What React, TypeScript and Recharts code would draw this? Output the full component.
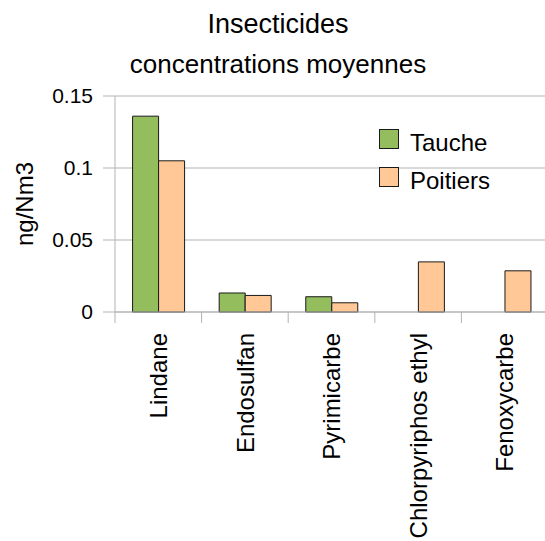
import { Bar, BarChart, Legend, XAxis, YAxis, CartesianGrid } from 'recharts';

const categories = ['Lindane', 'Endosulfan', 'Pyrimicarbe', 'Chlorpyriphos ethyl', 'Fenoxycarbe'];
const seriesNames = ['Tauche', 'Poitiers'];
const tauche = [0.136, 0.0132, 0.0106, null, null];
const poitiers = [0.105, 0.0115, 0.0064, 0.0348, 0.0286];
const yTicks = [0, 0.05, 0.1, 0.15];

const FONT = '"Liberation Sans", Arial, sans-serif';
const GREY = '#b3b3b3';

const chartData = categories.map((name, i) => ({
  name,
  Tauche: tauche[i],
  Poitiers: poitiers[i],
}));

const CategoryTick = (props: any) => {
  const { x, y, payload, index, width, visibleTicksCount } = props;
  const bw = width / visibleTicksCount;
  const left = x - bw / 2;
  return (
    <g>
      <line x1={left} y1={y} x2={left} y2={y + 11} stroke={GREY} />
      {index === visibleTicksCount - 1 && (
        <line x1={x + bw / 2} y1={y} x2={x + bw / 2} y2={y + 11} stroke={GREY} />
      )}
      <text
        x={x}
        y={y + 21}
        dy="0.36em"
        textAnchor="end"
        transform={`rotate(-90, ${x}, ${y + 21})`}
        fontSize={24}
        fontFamily={FONT}
        fill="#000"
      >
        {payload.value}
      </text>
    </g>
  );
};

const LegendBox = (props: any) => {
  const items = [...(props.payload || [])].sort(
    (a: any, b: any) => seriesNames.indexOf(a.value) - seriesNames.indexOf(b.value)
  );
  return (
    <svg width={160} height={80}>
      {items.map((entry: any, i: number) => (
        <g key={entry.value}>
          <rect x={0.5} y={2.5 + i * 38} width={19} height={19} fill={entry.color} stroke="#1a1a1a" />
          <text x={31} y={24 + i * 38} fontSize={24} fontFamily={FONT} fill="#000">
            {entry.value}
          </text>
        </g>
      ))}
    </svg>
  );
};

export default function App() {
  return (
    <div style={{ position: 'absolute', left: 0, top: 0, width: 545, height: 541, overflow: 'hidden', background: '#fff' }}>
      <BarChart
        width={550}
        height={541}
        data={chartData}
        margin={{ top: 96, right: 2, bottom: 199, left: 0 }}
        barCategoryGap="20.3%"
        barGap={0}
      >
        <CartesianGrid vertical={false} stroke={GREY} />
        <XAxis
          dataKey="name"
          height={30}
          interval={0}
          axisLine={{ stroke: GREY }}
          tickLine={false}
          tickSize={0}
          tickMargin={0}
          tick={<CategoryTick />}
        />
        <YAxis
          width={115}
          domain={[0, 0.15]}
          ticks={yTicks}
          axisLine={{ stroke: GREY }}
          tickLine={{ stroke: GREY }}
          tickSize={12}
          tickMargin={10}
          tick={{ fontSize: 21, fontFamily: FONT, fill: '#000' }}
          label={{
            content: (p: any) => {
              const vb = p.viewBox || {};
              const cy = vb.y + vb.height / 2;
              return (
                <text
                  x={24}
                  y={cy}
                  dy="0.36em"
                  textAnchor="middle"
                  transform={`rotate(-90, 24, ${cy})`}
                  fontSize={24}
                  fontFamily={FONT}
                  fill="#000"
                >
                  ng/Nm3
                </text>
              );
            },
          }}
        />
        <Legend
          layout="vertical"
          align="center"
          verticalAlign="middle"
          content={<LegendBox />}
          wrapperStyle={{ position: 'absolute', left: 379, top: 127, width: 160, height: 80 }}
        />
        <Bar dataKey="Tauche" fill="#94bd5e" stroke="#1a1a1a" strokeWidth={1} isAnimationActive={false} />
        <Bar dataKey="Poitiers" fill="#ffc896" stroke="#1a1a1a" strokeWidth={1} isAnimationActive={false} />
      </BarChart>
      <svg
        width={545}
        height={90}
        style={{ position: 'absolute', left: 0, top: 0, pointerEvents: 'none' }}
      >
        <text x={278} y={33} textAnchor="middle" fontSize={27} fontFamily={FONT} fill="#000">
          Insecticides
        </text>
        <text x={278} y={73} textAnchor="middle" fontSize={26} fontFamily={FONT} fill="#000">
          concentrations moyennes
        </text>
      </svg>
    </div>
  );
}
